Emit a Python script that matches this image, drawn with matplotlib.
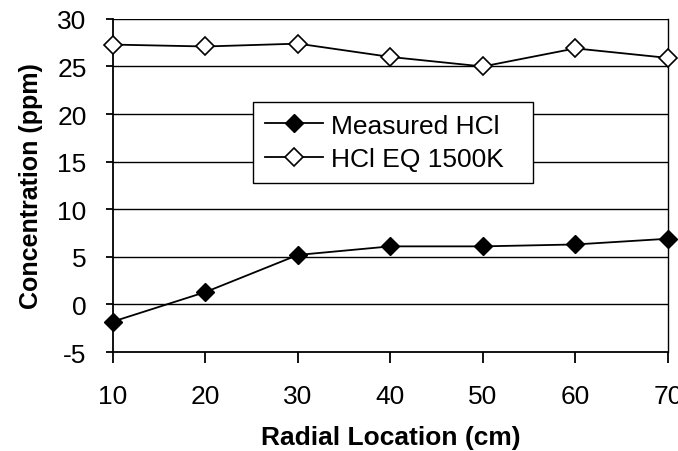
import numpy as np
import matplotlib
matplotlib.use('Agg')
import matplotlib.pyplot as plt

plt.rcParams['font.family'] = ['Liberation Sans', 'DejaVu Sans']
plt.rcParams['axes.unicode_minus'] = False

radial = [10, 20, 30, 40, 50, 60, 70]  # cm
measured_hcl = [-1.8, 1.3, 5.2, 6.1, 6.1, 6.3, 6.9]
hcl_eq = [27.3, 27.1, 27.4, 26.0, 25.0, 26.9, 25.9]
y_ticks = [-5, 0, 5, 10, 15, 20, 25, 30]
x_ticks = [10, 20, 30, 40, 50, 60, 70]

fig = plt.figure(figsize=(6.78, 4.52), dpi=100)
ax = fig.add_axes([0.1667, 0.219, 0.8183, 0.737])

ax.plot(radial, measured_hcl, color='black', lw=1.3, marker='D', ms=9,
        mfc='black', mec='black', label='Measured HCl', clip_on=False, zorder=3)
ax.plot(radial, hcl_eq, color='black', lw=1.3, marker='D', ms=9,
        mfc='white', mec='black', mew=1.2, label='HCl EQ 1500K', clip_on=False, zorder=3)

ax.set_xlim(10, 70)
ax.set_ylim(-5, 30)
ax.set_xticks(x_ticks)
ax.set_yticks(y_ticks)
for y in y_ticks[1:]:
    ax.axhline(y, color='black', lw=1.0, zorder=1)

ax.spines['top'].set_visible(False)
ax.spines['left'].set_linewidth(1.3)
ax.spines['bottom'].set_linewidth(1.3)
ax.spines['right'].set_linewidth(1.0)

ax.tick_params(axis='both', direction='out', width=1.3, labelsize=19, colors='black')
ax.tick_params(axis='x', length=8, pad=15)
ax.tick_params(axis='y', length=5, pad=14)
ax.tick_params(axis='y', which='both', right=False)

ax.set_xlabel('Radial Location (cm)', fontsize=19, fontweight='bold', labelpad=12)
ax.set_ylabel('Concentration (ppm)', fontsize=18, fontweight='bold', labelpad=10)

# legend box spans roughly x 20%..75% of the axes, as in the reference
leg = ax.legend(loc='upper left', bbox_to_anchor=(0.252, 0.511, 0.505, 0.24), mode='expand',
                fontsize=19, frameon=True, fancybox=False, edgecolor='black', framealpha=1,
                handlelength=2.2, handletextpad=0.3, borderpad=0.45, labelspacing=0.35,
                borderaxespad=0)
leg.get_frame().set_linewidth(1.0)

plt.savefig('out.png', dpi=100)
